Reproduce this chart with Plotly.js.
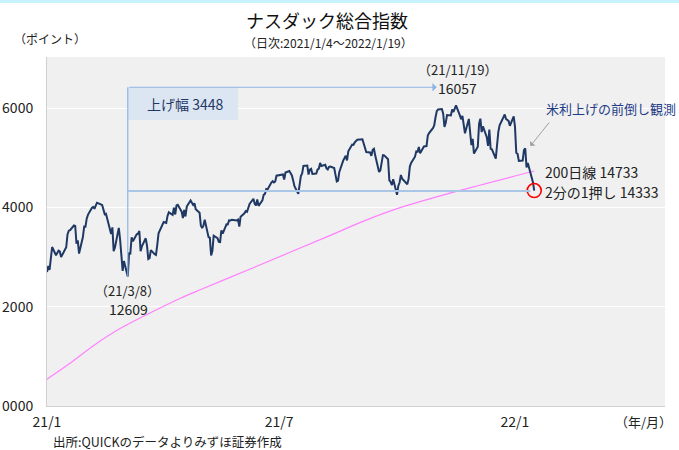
<!DOCTYPE html>
<html>
<head>
<meta charset="utf-8">
<script src="https://cdn.plot.ly/plotly-3.0.1.min.js"></script>
<style>html,body{margin:0;padding:0;background:#fff;}#chart{width:679px;height:450px;}</style>
</head>
<body>
<div id="chart"></div>
<script>
// ---- Data: NASDAQ Composite daily close, 2021/1/4 - 2022/1/19 ----
const dates = [
"2021-01-04","2021-01-05","2021-01-06","2021-01-07","2021-01-08","2021-01-11","2021-01-12","2021-01-13","2021-01-14","2021-01-15","2021-01-19","2021-01-20","2021-01-21","2021-01-22","2021-01-25","2021-01-26","2021-01-27","2021-01-28","2021-01-29",
"2021-02-01","2021-02-02","2021-02-03","2021-02-04","2021-02-05","2021-02-08","2021-02-09","2021-02-10","2021-02-11","2021-02-12","2021-02-16","2021-02-17","2021-02-18","2021-02-19","2021-02-22","2021-02-23","2021-02-24","2021-02-25","2021-02-26",
"2021-03-01","2021-03-02","2021-03-03","2021-03-04","2021-03-05","2021-03-08","2021-03-09","2021-03-10","2021-03-11","2021-03-12","2021-03-15","2021-03-16","2021-03-17","2021-03-18","2021-03-19","2021-03-22","2021-03-23","2021-03-24","2021-03-25","2021-03-26","2021-03-29","2021-03-30","2021-03-31",
"2021-04-01","2021-04-05","2021-04-06","2021-04-07","2021-04-08","2021-04-09","2021-04-12","2021-04-13","2021-04-14","2021-04-15","2021-04-16","2021-04-19","2021-04-20","2021-04-21","2021-04-22","2021-04-23","2021-04-26","2021-04-27","2021-04-28","2021-04-29","2021-04-30",
"2021-05-03","2021-05-04","2021-05-05","2021-05-06","2021-05-07","2021-05-10","2021-05-11","2021-05-12","2021-05-13","2021-05-14","2021-05-17","2021-05-18","2021-05-19","2021-05-20","2021-05-21","2021-05-24","2021-05-25","2021-05-26","2021-05-27","2021-05-28",
"2021-06-01","2021-06-02","2021-06-03","2021-06-04","2021-06-07","2021-06-08","2021-06-09","2021-06-10","2021-06-11","2021-06-14","2021-06-15","2021-06-16","2021-06-17","2021-06-18","2021-06-21","2021-06-22","2021-06-23","2021-06-24","2021-06-25","2021-06-28","2021-06-29","2021-06-30",
"2021-07-01","2021-07-02","2021-07-06","2021-07-07","2021-07-08","2021-07-09","2021-07-12","2021-07-13","2021-07-14","2021-07-15","2021-07-16","2021-07-19","2021-07-20","2021-07-21","2021-07-22","2021-07-23","2021-07-26","2021-07-27","2021-07-28","2021-07-29","2021-07-30",
"2021-08-02","2021-08-03","2021-08-04","2021-08-05","2021-08-06","2021-08-09","2021-08-10","2021-08-11","2021-08-12","2021-08-13","2021-08-16","2021-08-17","2021-08-18","2021-08-19","2021-08-20","2021-08-23","2021-08-24","2021-08-25","2021-08-26","2021-08-27","2021-08-30","2021-08-31",
"2021-09-01","2021-09-02","2021-09-03","2021-09-07","2021-09-08","2021-09-09","2021-09-10","2021-09-13","2021-09-14","2021-09-15","2021-09-16","2021-09-17","2021-09-20","2021-09-21","2021-09-22","2021-09-23","2021-09-24","2021-09-27","2021-09-28","2021-09-29","2021-09-30",
"2021-10-01","2021-10-04","2021-10-05","2021-10-06","2021-10-07","2021-10-08","2021-10-11","2021-10-12","2021-10-13","2021-10-14","2021-10-15","2021-10-18","2021-10-19","2021-10-20","2021-10-21","2021-10-22","2021-10-25","2021-10-26","2021-10-27","2021-10-28","2021-10-29",
"2021-11-01","2021-11-02","2021-11-03","2021-11-04","2021-11-05","2021-11-08","2021-11-09","2021-11-10","2021-11-11","2021-11-12","2021-11-15","2021-11-16","2021-11-17","2021-11-18","2021-11-19","2021-11-22","2021-11-23","2021-11-24","2021-11-26","2021-11-29","2021-11-30",
"2021-12-01","2021-12-02","2021-12-03","2021-12-06","2021-12-07","2021-12-08","2021-12-09","2021-12-10","2021-12-13","2021-12-14","2021-12-15","2021-12-16","2021-12-17","2021-12-20","2021-12-21","2021-12-22","2021-12-23","2021-12-27","2021-12-28","2021-12-29","2021-12-30","2021-12-31",
"2022-01-03","2022-01-04","2022-01-05","2022-01-06","2022-01-07","2022-01-10","2022-01-11","2022-01-12","2022-01-13","2022-01-14","2022-01-18","2022-01-19"
];
const closes = [
12698,12819,12741,13067,13202,13036,13072,13129,13113,12999,13197,13457,13531,13543,13636,13626,13271,13337,13071,
13403,13613,13611,13778,13856,13988,14008,13973,14026,14095,14048,13966,13865,13874,13533,13465,13598,13119,13192,
13589,13359,12998,12723,12920,12609,13074,13069,13399,13320,13460,13472,13525,13116,13215,13378,13228,12962,12978,13139,13060,13045,13247,
13480,13706,13698,13689,13829,13900,13850,13996,13858,14039,14052,13915,13786,13950,13818,14017,14139,14090,14051,14083,13963,
13895,13634,13582,13633,13752,13402,13389,13032,13125,13430,13379,13304,13300,13536,13471,13661,13657,13738,13736,13749,
13736,13756,13615,13814,13882,13925,13912,14020,14069,14174,14073,14040,14161,14030,14141,14253,14272,14370,14360,14501,14528,14504,
14522,14639,14664,14665,14560,14702,14733,14678,14645,14543,14427,14275,14499,14632,14685,14837,14841,14661,14763,14778,14673,
14681,14761,14781,14895,14836,14860,14788,14765,14816,14823,14794,14656,14526,14542,14715,14943,14996,15042,14946,15130,15266,15259,
15309,15331,15364,15374,15287,15248,15115,15106,15038,15162,15182,15044,14714,14746,14897,15052,15048,14970,14547,14512,14449,
14567,14255,14434,14502,14654,14580,14486,14466,14572,14823,14897,15022,15129,15122,15216,15090,15227,15236,15236,15448,15498,
15596,15650,15812,15940,15972,15982,15887,15623,15704,15861,15854,15974,15922,15994,16057,15855,15775,15845,15492,15783,15538,
15254,15381,15085,15225,15687,15787,15517,15631,15413,15238,15566,15180,15170,14981,15341,15522,15653,15871,15782,15766,15742,15645,
15833,15623,15100,15081,14936,14943,15153,15188,14807,14894,14507,14340
];

// 200-day moving average
const maDates = ["2021-01-04","2021-01-20","2021-02-10","2021-03-02","2021-04-18","2021-05-04","2021-06-12","2021-08-13","2021-09-06","2021-10-07","2021-11-20","2022-01-19"];
const maValues = [10540,10824,11230,11560,12171,12346,12766,13437,13705,14000,14328,14733];

// Key levels
const lowDate = "2021-03-08", lowValue = 12609;
const highDate = "2021-11-19", highValue = 16057;
const riseWidth = 3448;
const halfLevel = 14333;
const ma200Last = 14733;

// Axis ticks
const yTickVals = [10000,12000,14000,16000];
const yTickText = ["0000","2000","4000","6000"];
const xTickVals = ["2021-01-04","2021-07-04","2022-01-04"];
const xTickText = ["21/1","21/7","22/1"];

const FONT = "Noto Sans CJK JP, Noto Sans, sans-serif";
const NAVY = "#1f3864";

// plot area in pixels (for layout placement of labels)
const L = 47, R = 665, T = 57, B = 406;
const px = v => (v - L) / (R - L);
const py = v => (B - v) / (B - T);

const traces = [
  {x: maDates, y: maValues, type: "scatter", mode: "lines",
   line: {color: "#ff80ff", width: 1.2, shape: "spline", smoothing: 0.8}, hoverinfo: "skip"},
  {x: dates, y: closes, type: "scatter", mode: "lines",
   line: {color: NAVY, width: 2}, hoverinfo: "skip"},
  {x: [dates[dates.length-1]], y: [closes[closes.length-1]], type: "scatter", mode: "markers",
   marker: {symbol: "circle-open", size: 14, color: "#ff0000", line: {width: 1.6, color: "#ff0000"}}, hoverinfo: "skip"}
];

const arrowY = 16421;
const boxBottom = 15760;

const layout = {
  width: 679, height: 450,
  margin: {l: L, r: 679 - R, t: T, b: 450 - B},
  paper_bgcolor: "#ffffff",
  plot_bgcolor: "#f0f0f0",
  showlegend: false,
  font: {family: FONT, color: "#222", size: 13},
  xaxis: {
    type: "date", range: ["2021-01-04", "2022-05-01"],
    tickvals: xTickVals, ticktext: xTickText,
    tickfont: {size: 14, color: "#222"},
    showgrid: false, zeroline: false,
    showline: true, linecolor: "#d0d0d0", linewidth: 1,
    ticks: "", ticklabelstandoff: 3
  },
  yaxis: {
    range: [10000, 17030],
    tickvals: yTickVals, ticktext: yTickText,
    tickfont: {size: 14, color: "#222"},
    showgrid: true, gridcolor: "#ffffff", gridwidth: 1.2,
    zeroline: false, showline: true, linecolor: "#d0d0d0", linewidth: 1,
    ticks: "", ticklabelstandoff: 10
  },
  shapes: [
    {type: "rect", xref: "paper", yref: "paper", x0: -L/(R-L), x1: (679-L)/(R-L), y0: py(3), y1: py(0),
     fillcolor: "#c8f3fd", line: {width: 0}, layer: "below"},
    {type: "rect", xref: "x", yref: "y", x0: lowDate, x1: "2021-06-02", y0: boxBottom, y1: arrowY,
     fillcolor: "#dce6f2", line: {width: 0}, layer: "above"},
    {type: "line", xref: "x", yref: "y", x0: lowDate, x1: lowDate, y0: lowValue, y1: arrowY,
     line: {color: "#8eb4e3", width: 1.2}},
    {type: "line", xref: "x", yref: "y", x0: lowDate, x1: "2022-01-16", y0: halfLevel, y1: halfLevel,
     line: {color: "#aac6e6", width: 2}}
  ],
  annotations: [
    {xref: "x", yref: "y", x: "2021-11-04", y: arrowY, axref: "x", ayref: "y", ax: lowDate, ay: arrowY,
     text: "", showarrow: true, arrowhead: 1, arrowsize: 1.2, arrowwidth: 1.2, arrowcolor: "#8eb4e3", standoff: 0, startstandoff: 0},
    {xref: "x", yref: "y", x: "2022-01-16", y: 15236, ax: 20, ay: -25,
     text: "", showarrow: true, arrowhead: 1, arrowsize: 1.2, arrowwidth: 1, arrowcolor: "#a0a0a0", standoff: 0},
    {xref: "paper", yref: "paper", x: px(327), y: py(20), text: "ナスダック総合指数", showarrow: false,
     font: {size: 18, color: "#111"}, xanchor: "center", yanchor: "middle"},
    {xref: "paper", yref: "paper", x: px(328), y: py(42), text: "（日次:2021/1/4～2022/1/19）", showarrow: false,
     font: {size: 12, color: "#222"}, xanchor: "center", yanchor: "middle"},
    {xref: "paper", yref: "paper", x: px(50), y: py(38), text: "（ポイント）", showarrow: false,
     font: {size: 12, color: "#222"}, xanchor: "center", yanchor: "middle"},
    {xref: "paper", yref: "paper", x: px(185), y: py(104), text: "上げ幅 " + riseWidth, showarrow: false,
     font: {size: 14, color: NAVY}, xanchor: "center", yanchor: "middle"},
    {xref: "paper", yref: "paper", x: px(457), y: py(69), text: "（21/11/19）", showarrow: false,
     font: {size: 13}, xanchor: "center", yanchor: "middle"},
    {xref: "paper", yref: "paper", x: px(457), y: py(88), text: String(highValue), showarrow: false,
     font: {size: 14}, xanchor: "center", yanchor: "middle"},
    {xref: "paper", yref: "paper", x: px(127), y: py(290), text: "（21/3/8）", showarrow: false,
     font: {size: 13}, xanchor: "center", yanchor: "middle"},
    {xref: "paper", yref: "paper", x: px(128), y: py(309), text: String(lowValue), showarrow: false,
     font: {size: 14}, xanchor: "center", yanchor: "middle"},
    {xref: "paper", yref: "paper", x: px(544), y: py(108), text: "米利上げの前倒し観測", showarrow: false,
     font: {size: 13, color: "#1f3c88"}, xanchor: "left", yanchor: "middle"},
    {xref: "paper", yref: "paper", x: px(543), y: py(172), text: "200日線 " + ma200Last, showarrow: false,
     font: {size: 14}, xanchor: "left", yanchor: "middle"},
    {xref: "paper", yref: "paper", x: px(543), y: py(192), text: "2分の1押し " + halfLevel, showarrow: false,
     font: {size: 14}, xanchor: "left", yanchor: "middle"},
    {xref: "paper", yref: "paper", x: px(643), y: py(422), text: "（年/月）", showarrow: false,
     font: {size: 13}, xanchor: "center", yanchor: "middle"},
    {xref: "paper", yref: "paper", x: px(51), y: py(441), text: "出所:QUICKのデータよりみずほ証券作成", showarrow: false,
     font: {size: 12.5}, xanchor: "left", yanchor: "middle"}
  ]
};

Plotly.newPlot("chart", traces, layout, {staticPlot: true, displayModeBar: false});
</script>
</body>
</html>
